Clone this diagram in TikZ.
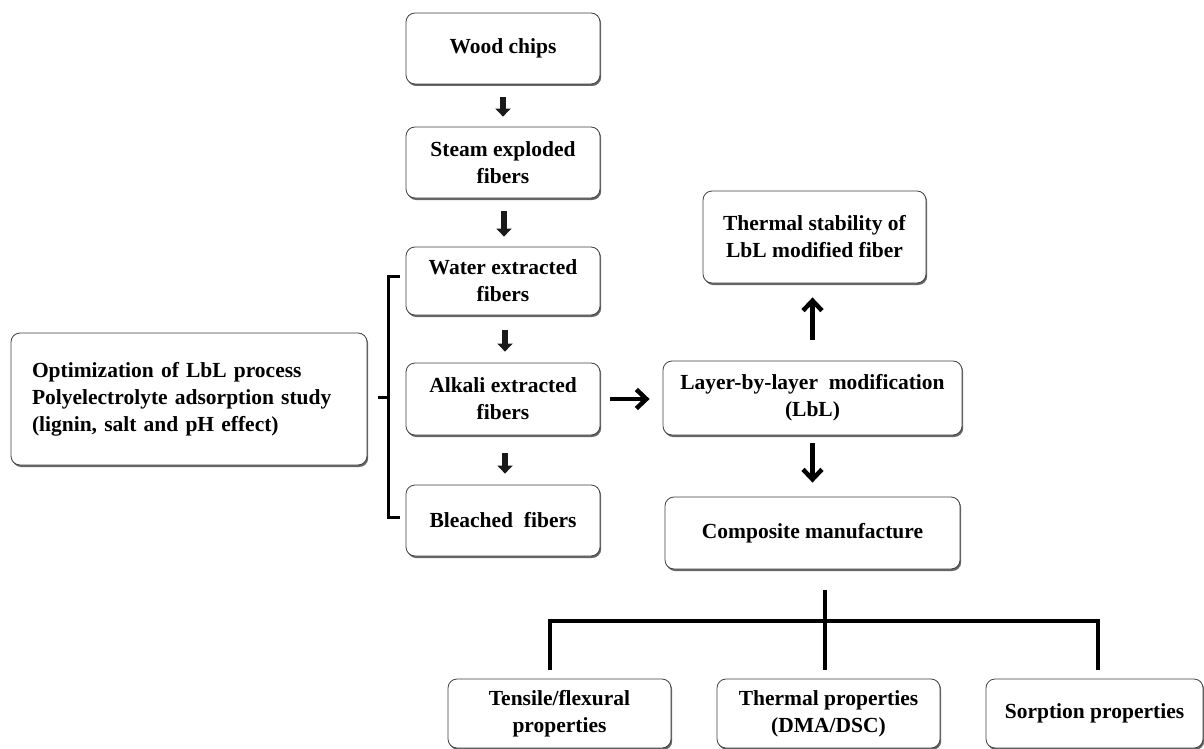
\documentclass[tikz,border=0pt]{standalone}
\usepackage{fontspec}
\setmainfont{Liberation Serif}
\usetikzlibrary{arrows.meta,shadows}
\begin{document}
\begin{tikzpicture}[x=1pt,y=-1pt,
  box/.style={draw=black!75, line width=0.8pt, rounded corners=9pt, fill=white,
    drop shadow={shadow xshift=1.2pt, shadow yshift=-2pt, fill=black!60, opacity=1},
    inner sep=0pt, align=center,
    font=\fontsize{21.5}{27}\selectfont\bfseries},
  smallarrow/.style={line width=6pt, draw=black!90, -{Triangle[length=8pt,width=15pt]}},
  bigarrow/.style={line width=4.5pt, -{Straight Barb[length=10pt,width=19pt,line width=4.5pt]}},
  tree/.style={line width=4pt},
  brk/.style={line width=3pt}
]
\useasboundingbox (0,0) rectangle (1204,749);
% left column
\node[box, minimum width=194pt, minimum height=71pt] (wood) at (503,48.5) {Wood chips};
\node[box, minimum width=194pt, minimum height=71pt] (steam) at (503,162.5) {Steam exploded\\fibers};
\node[box, minimum width=194pt, minimum height=68pt] (water) at (503,281) {Water extracted\\fibers};
\node[box, minimum width=194pt, minimum height=72pt] (alkali) at (503,399) {Alkali extracted\\fibers};
\node[box, minimum width=194pt, minimum height=71pt] (bleached) at (503,520.5) {Bleached\ \ fibers};
% optimization box
\node[box, minimum width=356pt, minimum height=132pt, text width=314pt, inner xsep=21pt, align=left] (opt) at (189,399)
  {Optimization of LbL process\\Polyelectrolyte adsorption study\\(lignin, salt and pH effect)};
% right column
\node[box, minimum width=299pt, minimum height=74pt] (lbl) at (812.5,398) {Layer-by-layer\ \ modification\\(LbL)};
\node[box, minimum width=223pt, minimum height=92pt] (stab) at (814.5,237) {Thermal stability of\\LbL modified fiber};
\node[box, minimum width=295pt, minimum height=72pt] (comp) at (812.5,533) {Composite manufacture};
% bottom row
\node[box, minimum width=223pt, minimum height=69pt] (tens) at (559.5,713.5) {Tensile/flexural\\properties};
\node[box, minimum width=223pt, minimum height=69pt] (thprop) at (828.5,713.5) {Thermal properties\\(DMA/DSC)};
\node[box, minimum width=217pt, minimum height=69pt] (sorp) at (1094.5,713.5) {Sorption properties};
% small arrows
\draw[smallarrow, shorten <=13pt, shorten >=10pt] (wood.south) -- (steam.north);
\draw[smallarrow, shorten <=13pt, shorten >=10pt] ([xshift=1pt]steam.south) -- ([xshift=1pt]water.north);
\draw[smallarrow, shorten <=15pt, shorten >=11pt] ([xshift=2pt]water.south) -- ([xshift=2pt]alkali.north);
\draw[smallarrow, shorten <=18pt, shorten >=11pt] ([xshift=2pt]alkali.south) -- ([xshift=2pt]bleached.north);
% big arrows
\draw[bigarrow, shorten <=10pt, shorten >=13pt] (alkali.east) -- (alkali.east -| lbl.west);
\draw[bigarrow, shorten <=8pt, shorten >=14pt] (lbl.south) -- (comp.north);
\draw[bigarrow, shorten <=21pt, shorten >=14pt] (lbl.north) -- (lbl.north |- stab.south);
% bracket
\coordinate (bt) at (388,276);
\coordinate (bb) at (388,517);
\coordinate (bm) at (388,397);
\draw[brk] ([xshift=-6pt]water.west |- bt) -- (bt) -- (bb) -- ([xshift=-6pt]bleached.west |- bb);
\draw[brk] (bm) -- ([xshift=11pt]opt.east |- bm);
% tree
\coordinate (tt) at (825,590);
\coordinate (tl) at (550,621);
\coordinate (tr) at (1098,621);
\draw[tree] (tt) -- ([yshift=9pt]tt |- thprop.north);
\draw[tree] ([yshift=9pt]tl |- tens.north) -- (tl) -- (tr) -- ([yshift=9pt]tr |- sorp.north);
\end{tikzpicture}
\end{document}
